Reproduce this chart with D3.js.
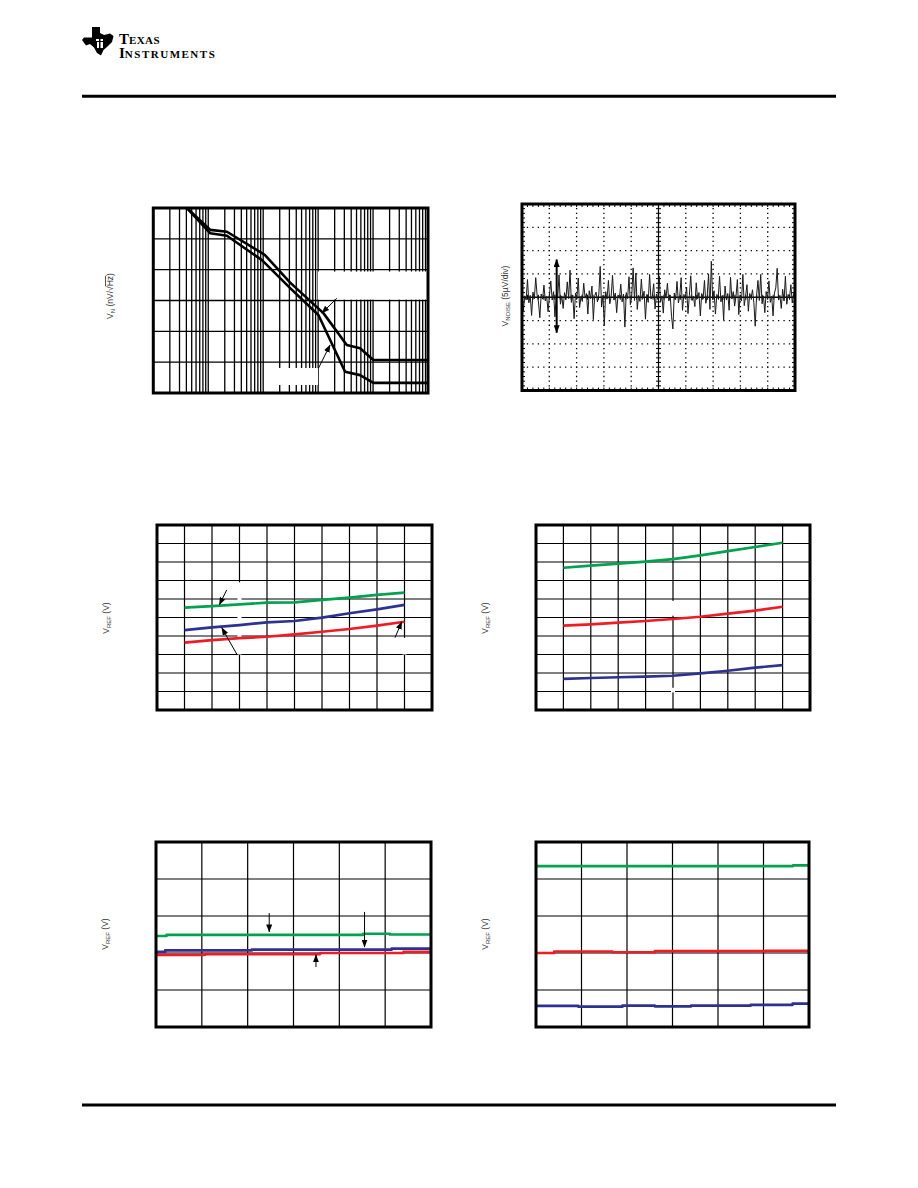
<!DOCTYPE html>
<html><head><meta charset="utf-8">
<script src="https://cdn.jsdelivr.net/npm/d3@7"></script>
<style>body{margin:0;background:#fff}</style>
</head><body>
<svg id="page" width="918" height="1188"></svg>
<script>
// ---------------- data ----------------
// Chart 1: noise density vs frequency (Hz, nV/rtHz)
const vnFreqUpper = [4.1, 10.9, 21.9, 107, 310, 1248, 3324, 5805, 10120, 100000];
const vnUpper     = [60, 52.9, 52.3, 44.8, 35.8, 25.9, 15.6, 14.5, 10.7, 10.7];
const vnFreqLower = [4.1, 10.9, 21.9, 95, 310, 1012, 3097, 5805, 10120, 100000];
const vnLower     = [60, 51.8, 51.0, 43.1, 34.0, 25.3, 6.9, 5.8, 3.3, 3.3];

// Chart 2: 0.1Hz-10Hz noise trace (uV), 10 s sweep
const noiseUV = [
 0.8,-2.9,0.3,-0.6,3.8,-1.2,0.4,-3.9,1.1,-0.3,
 4.2,0.5,-1.0,-4.4,0.7,-0.4,2.6,-0.8,0.2,-3.1,
 0.4,3.5,-0.6,1.2,-4.2,0.6,-0.2,4.8,-1.5,0.3,
 -2.4,1.0,-0.5,3.3,-0.3,5.8,-1.1,0.5,-4.6,0.9,
 -0.4,4.1,-2.2,0.2,-0.9,3.0,-0.2,0.8,-3.6,1.4,
 -0.3,2.4,-4.8,0.3,1.1,-1.0,0.6,6.6,-2.1,0.4,
 -6.1,1.2,-0.4,3.6,-1.4,0.2,4.7,-0.6,0.9,-3.3,
 0.5,-0.2,2.8,-1.0,0.7,-6.4,1.0,-0.3,4.4,-1.6,
 0.3,6.3,-0.7,5.2,-2.6,0.4,-0.9,3.9,-0.3,1.3,
 -4.7,0.6,-1.1,4.9,-0.4,0.2,2.9,-2.5,0.7,-0.5,
 4.6,-1.0,0.3,-3.4,1.6,-0.2,3.0,-0.8,0.5,-4.1,
 -6.8,0.9,-0.5,3.4,-1.2,0.3,4.2,-2.8,0.6,-0.3,
 2.2,-3.5,0.4,4.6,-0.7,0.2,-2.0,3.1,-0.3,1.0,
 -4.0,0.8,-0.4,3.6,-1.3,0.3,5.0,-2.6,7.7,-0.5,
 1.4,-3.6,0.6,-0.3,4.5,-1.0,0.4,-4.9,2.4,-0.6,
 0.8,-2.8,4.3,-0.4,1.2,-1.9,0.2,3.8,-3.7,0.5,
 -0.8,4.9,-1.8,0.3,2.7,-3.0,0.8,-0.2,1.6,-1.1,
 -6.2,0.4,3.6,-0.7,4.9,-1.4,0.3,-3.3,1.2,-0.4,
 3.5,-1.1,0.2,-4.0,0.9,2.0,6.2,-0.6,0.4,-2.4,
 1.7,-0.8,4.5,-1.5,0.6,-0.2,2.7,-1.2,0.8,0.1
];

// Charts 3 & 4: VREF vs temperature (grid divisions)
const tempC = [-40, -20, 0, 20, 40, 60, 80, 100, 120];
const vrefA_green = [5.53, 5.62, 5.71, 5.80, 5.82, 5.95, 6.07, 6.22, 6.34];
const vrefA_blue  = [4.32, 4.47, 4.59, 4.74, 4.81, 4.99, 5.23, 5.44, 5.68];
const vrefA_red   = [3.64, 3.78, 3.88, 3.96, 4.09, 4.23, 4.38, 4.56, 4.77];
const vrefB_green = [7.69, 7.80, 7.91, 8.02, 8.16, 8.36, 8.59, 8.81, 9.04];
const vrefB_red   = [4.56, 4.63, 4.72, 4.81, 4.92, 5.04, 5.21, 5.37, 5.58];
const vrefB_blue  = [1.68, 1.73, 1.77, 1.80, 1.85, 1.98, 2.12, 2.29, 2.43];

// Chart 5: VREF steps (x in divisions 0-6)
const c5GreenX = [0, 0.23, 4.52, 5.10, 6];
const c5GreenY = [2.46, 2.49, 2.52, 2.50, 2.50];
const c5BlueX  = [0, 0.20, 2.09, 5.14, 6];
const c5BlueY  = [2.03, 2.07, 2.09, 2.12, 2.12];
const c5RedX   = [0, 1.07, 3.58, 5.40, 6];
const c5RedY   = [1.95, 1.97, 2.00, 2.03, 2.03];

// Chart 6
const c6GreenX = [0, 5.65, 6];
const c6GreenY = [4.35, 4.37, 4.37];
const c6RedX   = [0, 0.40, 1.68, 2.61, 5.05, 6];
const c6RedY   = [2.00, 2.04, 2.02, 2.05, 2.06, 2.06];
const c6BlueX  = [0, 0.93, 1.90, 2.61, 3.41, 4.72, 5.64, 6];
const c6BlueY  = [0.57, 0.55, 0.58, 0.56, 0.58, 0.60, 0.63, 0.63];

// annotation arrows (data coords: [x1,y1,x2,y2], tail -> head)
const c1Arrows = [[2188, 30.7, 1167, 25.9], [1012, 8.0, 1652, 15.6]];
const c3Arrows = [[-9.3, 6.49, -14.7, 5.68], [-1.6, 2.97, -12.9, 4.45], [113.1, 3.91, 118.0, 4.77]];
const c5Arrows = [[2.47, 3.08, 2.47, 2.57], [4.55, 3.11, 4.55, 2.16], [3.49, 1.62, 3.49, 1.95]];
const noiseSpan = [1.27, 8.1, 1.27, -7.6];

// ---------------- drawing ----------------
const GREEN = "#00a24f", BLUE = "#2e3192", RED = "#ee1c25";
const svg = d3.select("#page");
svg.append("rect").attr("width", 918).attr("height", 1188).attr("fill", "#fff");
const defs = svg.append("defs");
defs.append("marker").attr("id", "ah").attr("viewBox", "0 0 8 6")
  .attr("refX", 7.5).attr("refY", 3).attr("markerWidth", 8).attr("markerHeight", 6)
  .attr("markerUnits", "userSpaceOnUse").attr("orient", "auto-start-reverse")
  .append("path").attr("d", "M0,0 L8,3 L0,6 Z").attr("fill", "#000");

// header / footer
const hdr = svg.append("g");
hdr.append("path")
  .attr("d", "M92,27 L100,27 L100,33 L104,35 L110,33.5 L113.5,36 L112,42 L108,46 L103.5,50 L101,55.5 L97,53 L94,47.5 L90,44 L86,45.5 L82,40 L84,37.5 L92,37.5 Z")
  .attr("fill", "#000");
hdr.append("path").attr("d", "M96,39 h3 v2 h-3 Z M97,42 h2 v6 h-2 Z M100.5,39 h2.5 v2 h-2.5 Z M100.5,42 h2.5 v6 h-2.5 Z")
  .attr("fill", "#fff");
const brand = hdr.append("text")
  .attr("font-family", "Liberation Serif, 'Times New Roman', serif").attr("font-weight", "bold");
brand.append("tspan").attr("x", 119).attr("y", 43.5).attr("font-size", 15).text("T");
brand.append("tspan").attr("font-size", 11).attr("letter-spacing", 0.4).text("EXAS");
brand.append("tspan").attr("x", 119).attr("y", 57.5).attr("font-size", 15).text("I");
brand.append("tspan").attr("font-size", 11).attr("letter-spacing", 1.5).text("NSTRUMENTS");

svg.append("line").attr("x1", 82).attr("x2", 836).attr("y1", 96.3).attr("y2", 96.3)
  .attr("stroke", "#000").attr("stroke-width", 3);
svg.append("line").attr("x1", 82).attr("x2", 836).attr("y1", 1105).attr("y2", 1105)
  .attr("stroke", "#000").attr("stroke-width", 3);

function yLabel(cx, cy, parts) {
  const t = svg.append("text")
    .attr("transform", `translate(${cx},${cy}) rotate(-90)`)
    .attr("text-anchor", "middle")
    .attr("font-family", "Liberation Sans, Arial, sans-serif")
    .attr("font-size", 8.5).attr("fill", "#333");
  parts.forEach(p => {
    const s = t.append("tspan").text(p.t);
    if (p.sub) s.attr("font-size", 6).attr("dy", 2);
    if (p.up) s.attr("dy", -2);
    if (p.over) s.attr("text-decoration", "overline");
  });
}
function line(g, x, y, xs, ys, color, w, curve) {
  g.append("path").datum(xs.map((v, i) => [v, ys[i]]))
    .attr("d", d3.line().x(d => x(d[0])).y(d => y(d[1])).curve(curve || d3.curveLinear))
    .attr("fill", "none").attr("stroke", color).attr("stroke-width", w)
    .attr("stroke-linejoin", "round");
}
function arrows(g, x, y, list, w) {
  list.forEach(a => g.append("line")
    .attr("x1", x(a[0])).attr("y1", y(a[1])).attr("x2", x(a[2])).attr("y2", y(a[3]))
    .attr("stroke", "#000").attr("stroke-width", w || 1).attr("marker-end", "url(#ah)"));
}
function clip(id, x0, y0, w, h) {
  defs.append("clipPath").attr("id", id).append("rect")
    .attr("x", x0).attr("y", y0).attr("width", w).attr("height", h);
}
function border(x0, y0, w, h) {
  svg.append("rect").attr("x", x0).attr("y", y0).attr("width", w).attr("height", h)
    .attr("fill", "none").attr("stroke", "#000").attr("stroke-width", 3);
}

// ---- Chart 1 ----
(function () {
  const L = 153.3, T = 208, R = 428, B = 393;
  const x = d3.scaleLog().domain([1, 100000]).range([L, R]);
  const y = d3.scaleLinear().domain([0, 60]).range([B, T]);
  const g = svg.append("g");
  const vt = [];
  for (let d = 0; d < 5; d++) for (let k = 1; k <= 9; k++) vt.push(k * Math.pow(10, d));
  g.selectAll(".v").data(vt).join("line")
    .attr("x1", d => x(d)).attr("x2", d => x(d)).attr("y1", T).attr("y2", B)
    .attr("stroke", "#000").attr("stroke-width", 1.3);
  g.selectAll(".h").data(d3.range(10, 60, 10)).join("line")
    .attr("x1", L).attr("x2", R).attr("y1", d => y(d)).attr("y2", d => y(d))
    .attr("stroke", "#000").attr("stroke-width", 1.3);
  // blank label areas
  g.append("rect").attr("x", 318).attr("y", y(39.4)).attr("width", R - 318).attr("height", y(30.3) - y(39.4)).attr("fill", "#fff");
  g.append("rect").attr("x", 277).attr("y", 368).attr("width", 41).attr("height", 17).attr("fill", "#fff");
  clip("c1", L, T, R - L, B - T);
  const cg = g.append("g").attr("clip-path", "url(#c1)");
  line(cg, x, y, vnFreqUpper, vnUpper, "#000", 2.6);
  line(cg, x, y, vnFreqLower, vnLower, "#000", 2.6);
  arrows(g, x, y, c1Arrows, 1);
  border(L, T, R - L, B - T);
  yLabel(113, 296, [{t: "V"}, {t: "N", sub: true}, {t: " (nV/√", up: true}, {t: "Hz", over: true}, {t: ")"}]);
})();

// ---- Chart 2 ----
(function () {
  const L = 522, T = 204, R = 795, B = 390.5;
  const x = d3.scaleLinear().domain([0, 10]).range([L, R]);
  const y = d3.scaleLinear().domain([-20, 20]).range([B, T]);
  const g = svg.append("g");
  const dx = (x(1) - x(0)) / 5, dy = (y(0) - y(5)) / 5;
  g.selectAll(".v").data(d3.range(1, 10).filter(d => d !== 5)).join("line")
    .attr("x1", d => x(d)).attr("x2", d => x(d)).attr("y1", T).attr("y2", B)
    .attr("stroke", "#000").attr("stroke-width", 1.3)
    .attr("stroke-dasharray", `1.3,${dy - 1.3}`).attr("stroke-dashoffset", 0.65);
  g.selectAll(".h").data([-15, -10, -5, 5, 10, 15]).join("line")
    .attr("x1", L).attr("x2", R).attr("y1", d => y(d)).attr("y2", d => y(d))
    .attr("stroke", "#000").attr("stroke-width", 1.3)
    .attr("stroke-dasharray", `1.3,${dx - 1.3}`).attr("stroke-dashoffset", 0.65);
  // centre lines
  g.append("line").attr("x1", x(5)).attr("x2", x(5)).attr("y1", T).attr("y2", B).attr("stroke", "#000").attr("stroke-width", 1.2);
  g.append("line").attr("x1", L).attr("x2", R).attr("y1", y(0)).attr("y2", y(0)).attr("stroke", "#000").attr("stroke-width", 1.4);
  // minor ticks
  const mx = d3.range(0.2, 10, 0.2), my = d3.range(-19, 20, 1);
  mx.forEach(v => {
    [[T, T + 3], [B - 3, B], [y(0) - 2.5, y(0) + 2.5]].forEach(s =>
      g.append("line").attr("x1", x(v)).attr("x2", x(v)).attr("y1", s[0]).attr("y2", s[1]).attr("stroke", "#000").attr("stroke-width", 1));
  });
  my.forEach(v => {
    [[L, L + 3], [R - 3, R], [x(5) - 2.5, x(5) + 2.5]].forEach(s =>
      g.append("line").attr("y1", y(v)).attr("y2", y(v)).attr("x1", s[0]).attr("x2", s[1]).attr("stroke", "#000").attr("stroke-width", 1));
  });
  clip("c2", L, T, R - L, B - T);
  const n = noiseUV.length;
  const tx = noiseUV.map((v, i) => i * 10 / (n - 1));
  line(g.append("g").attr("clip-path", "url(#c2)"), x, y, tx, noiseUV, "#1a1a1a", 1.0);
  g.append("line").attr("x1", x(noiseSpan[0])).attr("y1", y(noiseSpan[1]))
    .attr("x2", x(noiseSpan[2])).attr("y2", y(noiseSpan[3]))
    .attr("stroke", "#000").attr("stroke-width", 2)
    .attr("marker-start", "url(#ah)").attr("marker-end", "url(#ah)");
  border(L, T, R - L, B - T);
  yLabel(508, 296, [{t: "V"}, {t: "NOISE", sub: true}, {t: " (5µV/div)", up: true}]);
})();

// ---- Charts 3 & 4 ----
function tempChart(L, T, R, B, series, clipId, arrowList, gaps) {
  const x = d3.scaleLinear().domain([-60, 140]).range([L, R]);
  const y = d3.scaleLinear().domain([0, 10]).range([B, T]);
  const g = svg.append("g");
  g.selectAll(".v").data(d3.range(-40, 140, 20)).join("line")
    .attr("x1", d => x(d)).attr("x2", d => x(d)).attr("y1", T).attr("y2", B)
    .attr("stroke", "#000").attr("stroke-width", 1.2);
  g.selectAll(".h").data(d3.range(1, 10)).join("line")
    .attr("x1", L).attr("x2", R).attr("y1", d => y(d)).attr("y2", d => y(d))
    .attr("stroke", "#000").attr("stroke-width", 1.2);
  gaps.forEach(r => g.append("rect").attr("x", x(r[0]) - 2).attr("y", y(r[2])).attr("width", 4)
    .attr("height", y(r[1]) - y(r[2])).attr("fill", "#fff"));
  clip(clipId, L, T, R - L, B - T);
  const cg = g.append("g").attr("clip-path", `url(#${clipId})`);
  series.forEach(s => line(cg, x, y, tempC, s[0], s[1], 2.7));
  arrows(g, x, y, arrowList, 1);
  border(L, T, R - L, B - T);
}
tempChart(157, 525, 432, 710,
  [[vrefA_green, GREEN], [vrefA_blue, BLUE], [vrefA_red, RED]], "c3", c3Arrows,
  [[0, 3.0, 6.9], [120, 3.0, 3.9]]);
yLabel(109, 618, [{t: "V"}, {t: "REF", sub: true}, {t: " (V)", up: true}]);
tempChart(536, 525, 810, 710,
  [[vrefB_green, GREEN], [vrefB_red, RED], [vrefB_blue, BLUE]], "c4", [],
  [[40, 5.1, 5.9], [40, 0.95, 1.2]]);
yLabel(488, 618, [{t: "V"}, {t: "REF", sub: true}, {t: " (V)", up: true}]);

// ---- Charts 5 & 6 ----
function stepChart(L, T, R, B, series, clipId, arrowList) {
  const x = d3.scaleLinear().domain([0, 6]).range([L, R]);
  const y = d3.scaleLinear().domain([0, 5]).range([B, T]);
  const g = svg.append("g");
  g.selectAll(".v").data(d3.range(1, 6)).join("line")
    .attr("x1", d => x(d)).attr("x2", d => x(d)).attr("y1", T).attr("y2", B)
    .attr("stroke", "#000").attr("stroke-width", 1.2);
  g.selectAll(".h").data(d3.range(1, 5)).join("line")
    .attr("x1", L).attr("x2", R).attr("y1", d => y(d)).attr("y2", d => y(d))
    .attr("stroke", "#000").attr("stroke-width", 1.2);
  clip(clipId, L, T, R - L, B - T);
  const cg = g.append("g").attr("clip-path", `url(#${clipId})`);
  series.forEach(s => line(cg, x, y, s[0], s[1], s[2], 2.7, d3.curveStepAfter));
  arrows(g, x, y, arrowList, 1);
  border(L, T, R - L, B - T);
}
stepChart(156, 842, 431, 1027,
  [[c5GreenX, c5GreenY, GREEN], [c5BlueX, c5BlueY, BLUE], [c5RedX, c5RedY, RED]], "c5", c5Arrows);
yLabel(108, 934, [{t: "V"}, {t: "REF", sub: true}, {t: " (V)", up: true}]);
stepChart(536, 842, 809, 1027,
  [[c6GreenX, c6GreenY, GREEN], [c6RedX, c6RedY, RED], [c6BlueX, c6BlueY, BLUE]], "c6", []);
yLabel(488, 934, [{t: "V"}, {t: "REF", sub: true}, {t: " (V)", up: true}]);
</script>
</body></html>
